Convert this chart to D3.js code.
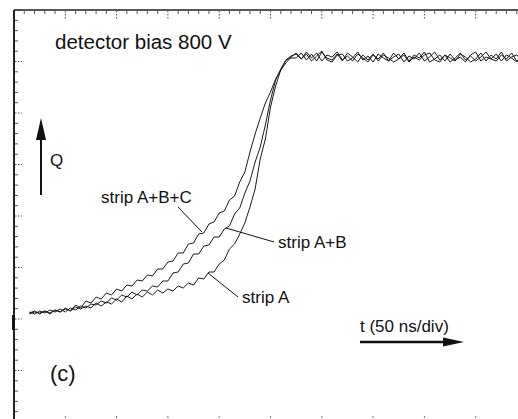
<!DOCTYPE html>
<html lang="en">
<head>
  <meta charset="UTF-8">
  <title>Detector bias 800 V</title>
  <style>
    body { margin: 0; background: #fff; }
    svg { display: block; }
    text { font-family: "Liberation Sans", Arial, sans-serif; fill: #111; }
  </style>
</head>
<body>
  <div class="layout"></div>
  <script src="https://d3js.org/d3.v7.min.js"></script>
  <script>
    const SVGWIDTH = 518;
    const SVGHEIGHT = 419;

    // scope samples, one every 5 ns (50 ns/div)
    const time = d3.range(15, 500, 5);
    // signal in arbitrary units (baseline ~ -97, plateau ~ 159)
    const stripABC = [-97,-95,-98,-95,-98,-94,-96,-92,-95,-89,-92,-85,-87,-81,-83,-77,-79,-73,-75,-69,
      -70,-64,-65,-59,-60,-53,-53,-46,-45,-37,-37,-28,-27,-18,-17,-8,-6,3,5,16,
      20,34,44,64,82,98,113,124,137,146,156,160,
      162,157,164,158,163,155,161,159,164,156,160,155,162,158,154,161,157,163,155,159,
      162,154,160,157,163,155,159,164,156,161,154,158,163,156,160,155,159,164,157,155,
      161,157,163,155,159];
    const stripAB = [-96,-98,-95,-97,-94,-96,-93,-96,-92,-94,-90,-92,-88,-89,-85,-87,-82,-84,-79,-81,
      -76,-79,-74,-75,-70,-71,-65,-65,-57,-56,-48,-47,-38,-38,-30,-29,-21,-21,-13,-10,
      2,8,23,35,54,69,91,116,136,147,156,158,
      158,163,156,162,155,164,158,156,162,155,163,159,154,161,156,162,155,161,158,154,
      157,163,155,161,158,164,154,157,161,155,162,156,159,154,161,164,155,159,157,162,
      155,161,158,154,160];
    const stripA = [-98,-96,-97,-95,-97,-94,-96,-93,-95,-91,-93,-90,-92,-87,-90,-86,-88,-83,-86,-80,
      -83,-78,-81,-76,-79,-74,-77,-73,-75,-70,-72,-67,-69,-62,-63,-56,-56,-48,-44,-33,
      -28,-18,-7,9,27,57,77,109,130,146,153,159,
      163,157,162,155,160,165,156,154,161,162,155,158,164,156,160,154,162,158,155,163,
      157,161,154,159,156,161,163,156,154,161,158,155,162,159,154,157,163,155,161,157,
      164,155,159,161,156];

    const svg = d3.select('.layout')
      .append('svg')
      .attr('width', SVGWIDTH)
      .attr('height', SVGHEIGHT);

    const xScale = d3.scaleLinear().domain([0, 500]).range([14, 527]);
    const yScale = d3.scaleLinear().domain([-206, 206]).range([422, 10]);
    const divScale = d3.scaleLinear().domain([0, 8]).range([422, 10]);

    // graticule ticks on the frame
    const grat = svg.append('g').attr('stroke', '#555');
    d3.range(0, 501, 10).forEach(t => {
      const major = t % 50 === 0;
      grat.append('line')
        .attr('x1', xScale(t)).attr('x2', xScale(t))
        .attr('y1', 11).attr('y2', major ? 19 : 14)
        .attr('stroke-width', 1)
        .attr('stroke-dasharray', major ? '1.5,1.5' : null);
    });
    d3.range(0, 8.01, 0.2).forEach(d => {
      const major = Math.abs(d - Math.round(d)) < 0.01;
      grat.append('line')
        .attr('x1', 15).attr('x2', major ? 22 : 18)
        .attr('y1', divScale(d)).attr('y2', divScale(d))
        .attr('stroke-width', 1)
        .attr('stroke-dasharray', major ? '1.5,1.5' : null);
    });
    d3.range(50, 500, 50).forEach(t => {
      grat.append('line')
        .attr('x1', xScale(t)).attr('x2', xScale(t))
        .attr('y1', 416).attr('y2', 418)
        .attr('stroke', '#777');
    });

    // frame (top and left border)
    svg.append('line').attr('x1', 14).attr('x2', 518).attr('y1', 10).attr('y2', 10)
      .attr('stroke', '#222').attr('stroke-width', 1.5);
    svg.append('line').attr('x1', 14).attr('x2', 14).attr('y1', 10).attr('y2', 419)
      .attr('stroke', '#222').attr('stroke-width', 2);
    svg.append('line').attr('x1', 13.5).attr('x2', 13.5).attr('y1', 315).attr('y2', 330)
      .attr('stroke', '#111').attr('stroke-width', 3);

    // traces
    const line = d3.line()
      .x((d, i) => xScale(time[i]))
      .y(d => yScale(d));
    [stripA, stripAB, stripABC].forEach(series => {
      svg.append('path')
        .datum(series)
        .attr('d', line)
        .attr('fill', 'none')
        .attr('stroke', '#1a1a1a')
        .attr('stroke-width', 1)
        .attr('stroke-linejoin', 'round');
    });

    // labels and leader lines
    const labels = [
      {text: 'detector bias 800 V', x: 55, y: 49, size: 20.5},
      {text: 'Q', x: 50, y: 166, size: 17},
      {text: 'strip A+B+C', x: 101, y: 203, size: 17},
      {text: 'strip A+B', x: 278, y: 248, size: 17},
      {text: 'strip A', x: 242, y: 303, size: 17},
      {text: '(c)', x: 50, y: 381, size: 22},
      {text: 't (50 ns/div)', x: 360, y: 332, size: 17}
    ];
    svg.selectAll('text.lbl')
      .data(labels)
      .enter()
      .append('text')
      .attr('class', 'lbl')
      .attr('x', d => d.x)
      .attr('y', d => d.y)
      .attr('font-size', d => `${d.size}px`)
      .text(d => d.text);

    const leaders = [
      [178, 207, 202, 232],
      [226, 228, 274, 242],
      [208, 273, 238, 297]
    ];
    svg.selectAll('line.leader')
      .data(leaders)
      .enter()
      .append('line')
      .attr('class', 'leader')
      .attr('x1', d => d[0]).attr('y1', d => d[1])
      .attr('x2', d => d[2]).attr('y2', d => d[3])
      .attr('stroke', '#111')
      .attr('stroke-width', 1);

    // Q arrow
    svg.append('line').attr('x1', 41).attr('x2', 41).attr('y1', 195).attr('y2', 136)
      .attr('stroke', '#111').attr('stroke-width', 2);
    svg.append('path').attr('d', 'M36,140 L41,118 L46,140 Z').attr('fill', '#111');
    // time arrow
    svg.append('line').attr('x1', 360).attr('x2', 447).attr('y1', 342).attr('y2', 342)
      .attr('stroke', '#111').attr('stroke-width', 2.5);
    svg.append('path').attr('d', 'M443,337.5 L464,342 L443,346.5 Z').attr('fill', '#111');
  </script>
</body>
</html>
